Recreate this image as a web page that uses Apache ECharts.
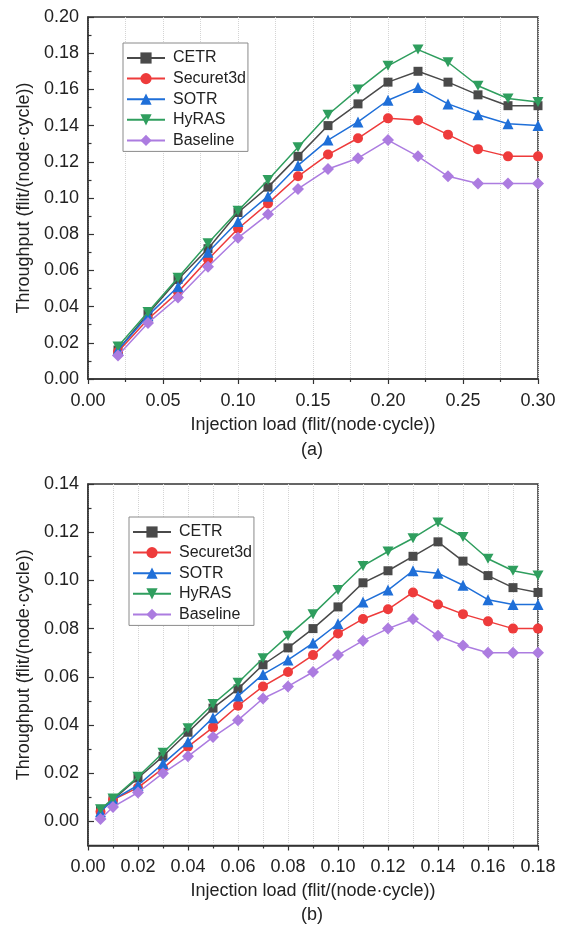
<!DOCTYPE html>
<html>
<head>
<meta charset="utf-8">
<script src="https://cdn.jsdelivr.net/npm/echarts@6.0.0/dist/echarts.min.js"></script>
<style>
html,body{margin:0;padding:0;background:#fff;}
#chart{width:563px;height:931px;}
</style>
</head>
<body>
<div id="chart"></div>
<script>
// ---- Data: panel (a) ----
const xA = [0.02, 0.04, 0.06, 0.08, 0.10, 0.12, 0.14, 0.16, 0.18, 0.20, 0.22, 0.24, 0.26, 0.28, 0.30];
const cetrA = [0.016, 0.036, 0.055, 0.072, 0.092, 0.106, 0.123, 0.140, 0.152, 0.164, 0.170, 0.164, 0.157, 0.151, 0.151];
const secureA = [0.015, 0.033, 0.048, 0.066, 0.083, 0.097, 0.112, 0.124, 0.133, 0.144, 0.143, 0.135, 0.127, 0.123, 0.123];
const sotrA = [0.016, 0.035, 0.051, 0.070, 0.087, 0.101, 0.118, 0.132, 0.142, 0.154, 0.161, 0.152, 0.146, 0.141, 0.140];
const hyrasA = [0.018, 0.037, 0.056, 0.075, 0.093, 0.110, 0.128, 0.146, 0.160, 0.173, 0.182, 0.175, 0.162, 0.155, 0.153];
const baseA = [0.013, 0.031, 0.045, 0.062, 0.078, 0.091, 0.105, 0.116, 0.122, 0.132, 0.123, 0.112, 0.108, 0.108, 0.108];

// ---- Data: panel (b) ----
const xB = [0.005, 0.01, 0.02, 0.03, 0.04, 0.05, 0.06, 0.07, 0.08, 0.09, 0.10, 0.11, 0.12, 0.13, 0.14, 0.15, 0.16, 0.17, 0.18];
const cetrB = [0.005, 0.009, 0.018, 0.027, 0.037, 0.047, 0.055, 0.065, 0.072, 0.080, 0.089, 0.099, 0.104, 0.110, 0.116, 0.108, 0.102, 0.097, 0.095];
const secureB = [0.004, 0.009, 0.014, 0.022, 0.031, 0.039, 0.048, 0.056, 0.062, 0.069, 0.078, 0.084, 0.088, 0.095, 0.090, 0.086, 0.083, 0.080, 0.080];
const sotrB = [0.004, 0.009, 0.015, 0.024, 0.033, 0.043, 0.052, 0.061, 0.067, 0.074, 0.082, 0.091, 0.096, 0.104, 0.103, 0.098, 0.092, 0.090, 0.090];
const hyrasB = [0.005, 0.0095, 0.0185, 0.0285, 0.0386, 0.0487, 0.0575, 0.0677, 0.077, 0.086, 0.096, 0.106, 0.112, 0.1175, 0.124, 0.118, 0.109, 0.104, 0.102];
const baseB = [0.001, 0.006, 0.012, 0.020, 0.027, 0.035, 0.042, 0.051, 0.056, 0.062, 0.069, 0.075, 0.080, 0.084, 0.077, 0.073, 0.070, 0.070, 0.070];

// tick labels
const yTicksB = [0.00, 0.02, 0.04, 0.06, 0.08, 0.10, 0.12, 0.14];
const yMinorTicksB = [0.01, 0.03, 0.05, 0.07, 0.09, 0.11, 0.13];

const names = ['CETR', 'Securet3d', 'SOTR', 'HyRAS', 'Baseline'];
const colors = ['#4a4a4a', '#ee3b3b', '#1f6fd8', '#2f9e5e', '#ac7ce0'];
const symbols = ['rect', 'circle', 'triangle', 'path://M0,0 L10,0 L5,9 Z', 'diamond'];
const symbolSizes = [9, 10, 11, [11, 10], 12];

const FONT = "'Liberation Sans', Arial, Helvetica, sans-serif";
const AX = '#333';

function pairs(xs, ys) { return xs.map((x, i) => [x, ys[i]]); }

const seriesA = [cetrA, secureA, sotrA, hyrasA, baseA];
const seriesB = [cetrB, secureB, sotrB, hyrasB, baseB];

const series = [];
function addSeries(xs, list, xi, yi) {
  list.forEach((ys, k) => {
    series.push({
      name: names[k],
      type: 'line',
      xAxisIndex: xi,
      yAxisIndex: yi,
      data: pairs(xs, ys),
      symbol: symbols[k],
      symbolSize: symbolSizes[k],
      lineStyle: { color: colors[k], width: 1.5 },
      itemStyle: { color: colors[k] },
      emphasis: { disabled: true },
      animation: false,
      z: 2 + k
    });
  });
}
addSeries(xA, seriesA, 0, 0);
addSeries(xB, seriesB, 1, 1);

const commonX = {
  type: 'value',
  axisLine: { show: true, onZero: false, lineStyle: { color: AX, width: 1.5 } },
  axisTick: { show: true, inside: false, length: 5, lineStyle: { color: AX, width: 1.2 } },
  minorTick: { show: true, splitNumber: 2, length: 3, lineStyle: { color: AX, width: 1.2 } },
  splitLine: { show: true, lineStyle: { color: '#d4d4d4', type: 'dotted', width: 1 } },
  minorSplitLine: { show: true, lineStyle: { color: '#d4d4d4', type: 'dotted', width: 1 } },
  axisLabel: { color: '#222', fontSize: 18, fontFamily: FONT, margin: 13, formatter: v => v.toFixed(2) },
  name: 'Injection load (flit/(node\u00B7cycle))',
  nameLocation: 'middle',
  nameGap: 37,
  nameTextStyle: { color: '#222', fontSize: 18, fontFamily: FONT }
};
const commonY = {
  type: 'value',
  axisLine: { show: true, onZero: false, lineStyle: { color: AX, width: 1.5 } },
  axisTick: { show: true, inside: true, length: 6, lineStyle: { color: AX, width: 1.2 } },
  minorTick: { show: true, splitNumber: 2, length: 3.5, lineStyle: { color: AX, width: 1.2 } },
  splitLine: { show: false },
  axisLabel: { color: '#222', fontSize: 18, fontFamily: FONT, margin: 9, formatter: v => v.toFixed(2) },
  name: 'Throughput (flit/(node\u00B7cycle))',
  nameLocation: 'middle',
  nameGap: 54,
  nameTextStyle: { color: '#222', fontSize: 18, fontFamily: FONT }
};

function legendAt(left, top) {
  return {
    orient: 'vertical',
    left: left, top: top,
    data: names,
    itemWidth: 38, itemHeight: 14, itemGap: 4.6,
    padding: [7, 2, 3, 3],
    borderColor: '#8a8a8a', borderWidth: 1,
    backgroundColor: '#fff',
    selectedMode: false,
    textStyle: { color: '#222', fontSize: 16, fontFamily: FONT, padding: [0, 0, 0, 3] }
  };
}

const option = {
  animation: false,
  backgroundColor: '#fff',
  grid: [
    { left: 88, top: 17, width: 450, height: 362, show: true, borderColor: AX, borderWidth: 1.5, backgroundColor: 'transparent' },
    { left: 88, top: 484, width: 450, height: 361.5, show: true, borderColor: AX, borderWidth: 1.5, backgroundColor: 'transparent' }
  ],
  xAxis: [
    Object.assign({}, commonX, { gridIndex: 0, min: 0, max: 0.30, interval: 0.05 }),
    Object.assign({}, commonX, { gridIndex: 1, min: 0, max: 0.18, interval: 0.02 })
  ],
  yAxis: [
    Object.assign({}, commonY, { gridIndex: 0, min: 0, max: 0.20, interval: 0.02 }),
    Object.assign({}, commonY, {
      gridIndex: 1, min: -0.01, max: 0.14,
      minorTick: { show: false },
      axisTick: { show: true, inside: true, length: 6, customValues: yTicksB, lineStyle: { color: AX, width: 1.2 } },
      axisLabel: { color: '#222', fontSize: 18, fontFamily: FONT, margin: 9, customValues: yTicksB, formatter: v => v.toFixed(2) }
    }),
    {
      type: 'value', gridIndex: 1, min: -0.01, max: 0.14, position: 'left',
      axisLine: { show: false },
      axisLabel: { show: false },
      splitLine: { show: false },
      axisTick: { show: true, inside: true, length: 3.5, customValues: yMinorTicksB, lineStyle: { color: AX, width: 1.2 } }
    }
  ],
  legend: [legendAt(123, 43), legendAt(129, 517)],
  graphic: [
    { type: 'text', left: 313 - 12, top: 441, style: { text: '(a)', fill: '#222', fontSize: 18, fontFamily: FONT } },
    { type: 'text', left: 313 - 12, top: 906, style: { text: '(b)', fill: '#222', fontSize: 18, fontFamily: FONT } }
  ],
  series: series
};

const chart = echarts.init(document.getElementById('chart'), null, { renderer: 'canvas' });
chart.setOption(option);
</script>
</body>
</html>
